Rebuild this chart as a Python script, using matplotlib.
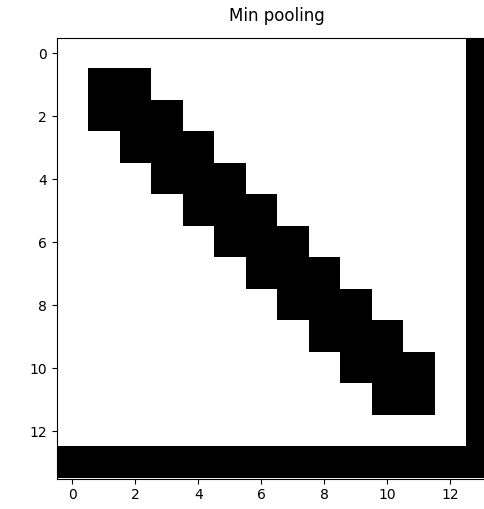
import numpy as np
import matplotlib
matplotlib.use("Agg")
import matplotlib.pyplot as plt

# pooled image, 0 = black, 1 = white
pooled = [
    [1, 1, 1, 1, 1, 1, 1, 1, 1, 1, 1, 1, 1, 0],
    [1, 0, 0, 1, 1, 1, 1, 1, 1, 1, 1, 1, 1, 0],
    [1, 0, 0, 0, 1, 1, 1, 1, 1, 1, 1, 1, 1, 0],
    [1, 1, 0, 0, 0, 1, 1, 1, 1, 1, 1, 1, 1, 0],
    [1, 1, 1, 0, 0, 0, 1, 1, 1, 1, 1, 1, 1, 0],
    [1, 1, 1, 1, 0, 0, 0, 1, 1, 1, 1, 1, 1, 0],
    [1, 1, 1, 1, 1, 0, 0, 0, 1, 1, 1, 1, 1, 0],
    [1, 1, 1, 1, 1, 1, 0, 0, 0, 1, 1, 1, 1, 0],
    [1, 1, 1, 1, 1, 1, 1, 0, 0, 0, 1, 1, 1, 0],
    [1, 1, 1, 1, 1, 1, 1, 1, 0, 0, 0, 1, 1, 0],
    [1, 1, 1, 1, 1, 1, 1, 1, 1, 0, 0, 0, 1, 0],
    [1, 1, 1, 1, 1, 1, 1, 1, 1, 1, 0, 0, 1, 0],
    [1, 1, 1, 1, 1, 1, 1, 1, 1, 1, 1, 1, 1, 0],
    [0, 0, 0, 0, 0, 0, 0, 0, 0, 0, 0, 0, 0, 0],
]
title = "Min pooling"

W, H = 485, 509
fig = plt.figure(figsize=(W / 100, H / 100), dpi=100)
# axes runs a little past the right edge, like the reference crop
ax = fig.add_axes([56.6 / W, (H - 478.5) / H, 441 / W, 441 / H])
ax.imshow(np.array(pooled), cmap="gray", vmin=0, vmax=1, interpolation="nearest")
ax.set_title(title, pad=12)

fig.savefig("out.png", dpi=100)
